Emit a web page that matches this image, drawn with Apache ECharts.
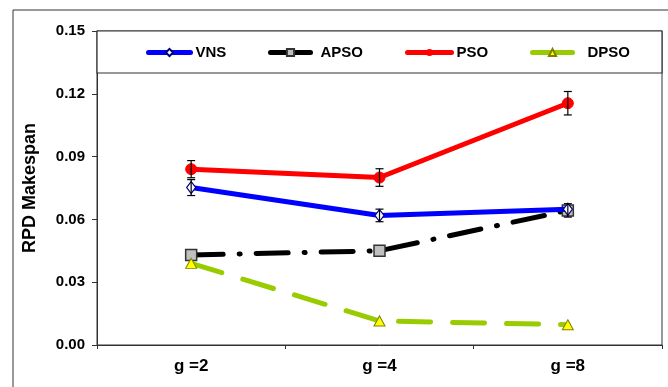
<!DOCTYPE html>
<html><head><meta charset="utf-8">
<script src="https://cdn.jsdelivr.net/npm/echarts@6/dist/echarts.min.js"></script>
<style>html,body{margin:0;padding:0;background:#fff}#c{width:668px;height:387px}</style>
</head><body><div id="c"></div>
<script>
const categories = ['g =2', 'g =4', 'g =8'];
const vns  = [0.0752, 0.0619, 0.0648];
const apso = [0.0430, 0.0450, 0.0643];
const pso  = [0.0840, 0.0800, 0.1155];
const dpso = [0.0390, 0.0115, 0.0097];
const vnsErr  = [0.0038, 0.0030, null];
const apsoErr = [null, null, 0.0032];
const psoErr  = [0.0041, 0.0042, 0.0056];
const yTicks = [0, 0.03, 0.06, 0.09, 0.12, 0.15];
const seriesNames = ['VNS', 'APSO', 'PSO', 'DPSO'];

const errData = [];
[[vns, vnsErr], [apso, apsoErr], [pso, psoErr]].forEach(([v, e]) => {
  v.forEach((val, i) => { if (e[i] != null) errData.push([i, val - e[i], val + e[i]]); });
});

const chart = echarts.init(document.getElementById('c'));
const font = 'Arial, "Liberation Sans", sans-serif';
const legendPos = [[146, 42, 0], [268, 40, 5], [405, 44, 0], [530, 40, 10]];
const legends = seriesNames.map((n, i) => ({
  top: 45, left: legendPos[i][0], itemWidth: legendPos[i][1], itemHeight: 9, z: 10, padding: 0,
  lineStyle: { width: 5, type: 'solid', cap: 'round' },
  textStyle: { fontFamily: font, fontWeight: 'bold', fontSize: 15, color: '#000', padding: [0, 0, 0, legendPos[i][2]] },
  data: [{ name: n, lineStyle: { type: 'solid', width: 5 } }]
}));
chart.setOption({
  animation: false,
  backgroundColor: '#fff',
  grid: { left: 97, right: 6, top: 31, bottom: 42, show: true, borderColor: '#333', borderWidth: 1 },
  graphic: [
    { type: 'rect', shape: { x: 13, y: 10, width: 700, height: 420 }, style: { fill: 'none', stroke: '#333', lineWidth: 1 }, z: -10 },
    { type: 'rect', shape: { x: 97, y: 31, width: 565, height: 42 }, style: { fill: '#fff', stroke: '#333', lineWidth: 1.2 }, z: 1 }
  ],
  legend: legends,
  xAxis: {
    type: 'category', data: categories, boundaryGap: true,
    axisLine: { lineStyle: { color: '#333', width: 1 } },
    axisTick: { show: true, length: 4, lineStyle: { color: '#333' } },
    axisLabel: { fontFamily: font, fontWeight: 'bold', fontSize: 17, color: '#000', margin: 13 }
  },
  yAxis: {
    type: 'value', min: 0, max: 0.15, interval: 0.03,
    name: 'RPD Makespan', nameLocation: 'middle', nameGap: 58,
    nameTextStyle: { fontFamily: font, fontWeight: 'bold', fontSize: 18, color: '#000' },
    axisLine: { show: true, lineStyle: { color: '#333' } },
    axisTick: { show: true, length: 5, lineStyle: { color: '#333' } },
    splitLine: { show: false },
    axisLabel: { fontFamily: font, fontWeight: 'bold', fontSize: 15, color: '#000', margin: 12,
      formatter: v => yTicks.some(t => Math.abs(t - v) < 1e-9) ? v.toFixed(2) : '' }
  },
  series: [
    { name: 'VNS', type: 'line', data: vns, z: 4, symbol: 'diamond', symbolSize: [9, 12],
      lineStyle: { color: '#0000ff', width: 5 },
      itemStyle: { color: '#ffffff', borderColor: '#000080', borderWidth: 1.2 } },
    { name: 'APSO', type: 'line', data: apso, z: 3, symbol: 'rect', symbolSize: 11,
      lineStyle: { color: '#000', width: 5, type: [32, 16, 1, 16], cap: 'round' },
      itemStyle: { color: '#c0c0c0', borderColor: '#333', borderWidth: 1.5 } },
    { name: 'PSO', type: 'line', data: pso, z: 4, symbol: 'circle', symbolSize: 11,
      lineStyle: { color: '#ff0000', width: 5 },
      itemStyle: { color: '#ff0000', borderColor: '#ff0000' } },
    { name: 'DPSO', type: 'line', data: dpso, z: 3, symbol: 'triangle', symbolSize: [11, 10],
      lineStyle: { color: '#99cc00', width: 5, type: [32, 22], cap: 'round' },
      itemStyle: { color: '#ffff00', borderColor: '#808000', borderWidth: 1 } },
    { type: 'custom', z: 6, silent: true, data: errData,
      renderItem: (params, api) => {
        const x = api.coord([api.value(0), api.value(1)])[0];
        const yl = api.coord([api.value(0), api.value(1)])[1];
        const yh = api.coord([api.value(0), api.value(2)])[1];
        const st = { stroke: '#000', lineWidth: 1.2 };
        return { type: 'group', children: [
          { type: 'line', shape: { x1: x, y1: yl, x2: x, y2: yh }, style: st },
          { type: 'line', shape: { x1: x - 4, y1: yl, x2: x + 4, y2: yl }, style: st },
          { type: 'line', shape: { x1: x - 4, y1: yh, x2: x + 4, y2: yh }, style: st }
        ]};
      }
    }
  ]
});
</script>
</body></html>
